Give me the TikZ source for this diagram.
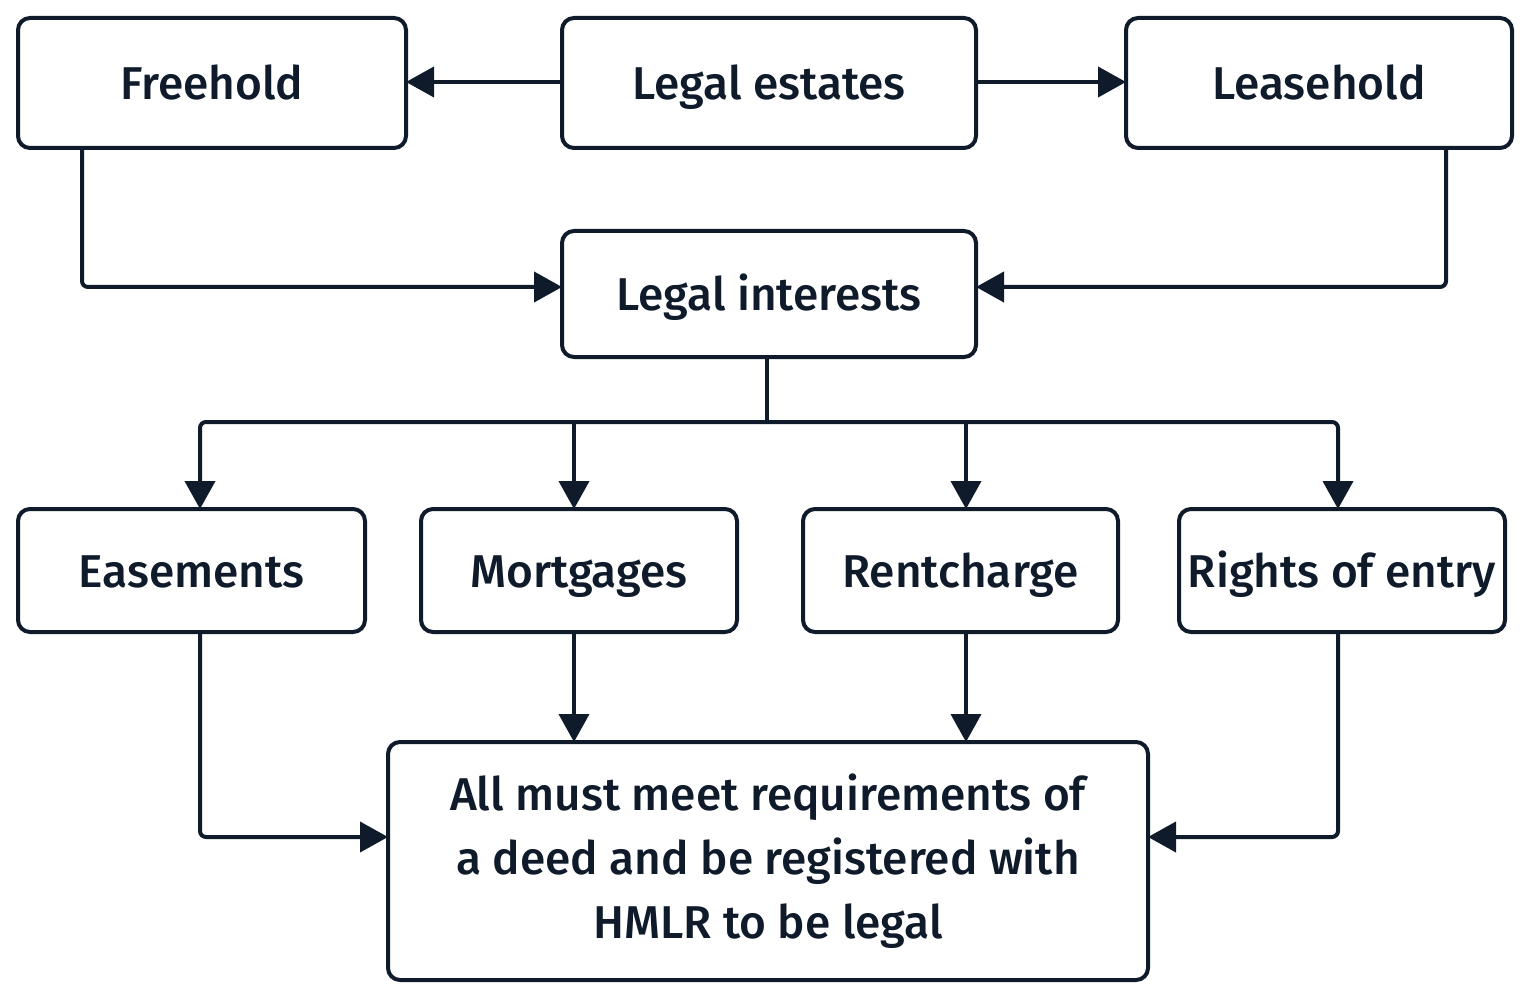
\documentclass[tikz,border=0pt]{standalone}
\usepackage{fontspec}
\setmainfont{Fira Sans}[UprightFont=* Medium]
\usetikzlibrary{arrows.meta}
\definecolor{ink}{HTML}{0F1A2A}
\begin{document}
\begin{tikzpicture}[x=0.5pt,y=-0.5pt,
  box/.style={draw=ink,line width=2pt,rounded corners=6pt,inner sep=0pt,outer sep=0pt,
    text=ink,font=\fontsize{23}{32}\selectfont},
  one/.style={box,text height=16.5pt,text depth=0pt},
  multi/.style={box,align=center},
  conn/.style={draw=ink,line width=2pt,rounded corners=3pt,-{Triangle[length=14pt,width=15pt]}},
  plain/.style={draw=ink,line width=2pt,rounded corners=3pt}]
\useasboundingbox (0,0) rectangle (1531,1000);
\fill[white] (0,0) rectangle (1531,1000);
\node[one,minimum width=194pt,minimum height=65pt] (fh) at (212,83) {Freehold};
\node[one,minimum width=207pt,minimum height=65pt] (le) at (769,83) {Legal estates};
\node[one,minimum width=193pt,minimum height=65pt] (lh) at (1319,83) {Leasehold};
\node[one,minimum width=207pt,minimum height=63pt] (li) at (769,294) {Legal interests};
\node[one,minimum width=173.5pt,minimum height=61.5pt] (ea) at (191.5,570.5) {Easements};
\node[one,minimum width=158pt,minimum height=61.5pt] (mo) at (579,570.5) {Mortgages};
\node[one,minimum width=157.5pt,minimum height=61.5pt] (rc) at (960.5,570.5) {Rentcharge};
\node[one,minimum width=163pt,minimum height=61.5pt] (re) at (1342,570.5) {Rights of entry};
\node[multi,minimum width=380pt,minimum height=119pt] (al) at (768,861)
  {All must meet requirements of\\a deed and be registered with\\HMLR to be legal};
\coordinate (bus) at (767,422);
\draw[conn] (le.west |- 0,82) -- (fh.east |- 0,82);
\draw[conn] (le.east |- 0,82) -- (lh.west |- 0,82);
\draw[conn] (fh.south -| 82,0) |- (li.west |- 0,287);
\draw[conn] (lh.south -| 1446,0) |- (li.east |- 0,287);
\draw[plain] (li.south -| bus) -- (bus);
\draw[conn] (bus) -| (ea.north -| 200,0);
\draw[conn] (bus) -| (re.north -| 1338,0);
\draw[conn] (574,422) -- (mo.north -| 574,0);
\draw[conn] (966,422) -- (rc.north -| 966,0);
\draw[conn] (ea.south -| 200,0) |- (al.west |- 0,837);
\draw[conn] (re.south -| 1338,0) |- (al.east |- 0,837);
\draw[conn] (mo.south -| 574,0) -- (al.north -| 574,0);
\draw[conn] (rc.south -| 966,0) -- (al.north -| 966,0);
\end{tikzpicture}
\end{document}
